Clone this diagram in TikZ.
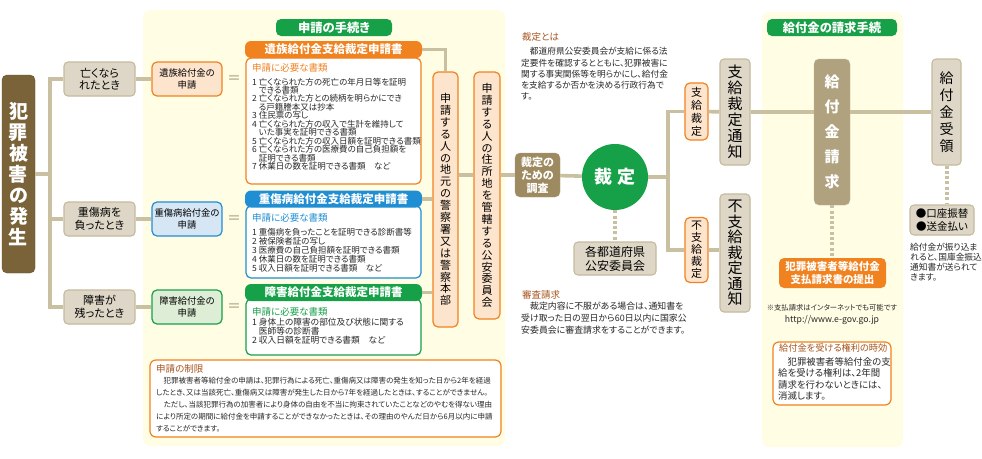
\documentclass[tikz,border=0pt]{standalone}
\usepackage{fontspec}
\setmainfont{Noto Sans CJK JP}[RawFeature=+palt]
\usetikzlibrary{positioning,calc}

\definecolor{linec}{RGB}{200,192,160}
\definecolor{tanfill}{RGB}{222,215,199}
\definecolor{tanedge}{RGB}{196,186,156}
\definecolor{brownc}{RGB}{122,99,56}
\definecolor{surveyc}{RGB}{158,138,96}
\definecolor{claimc}{RGB}{176,162,126}
\definecolor{orangec}{RGB}{240,130,32}
\definecolor{peach}{RGB}{253,228,205}
\definecolor{bluec}{RGB}{32,142,210}
\definecolor{bluefill}{RGB}{214,230,245}
\definecolor{greenc}{RGB}{22,160,72}
\definecolor{greenfill}{RGB}{222,238,214}
\definecolor{cream}{RGB}{255,253,228}
\definecolor{titlec}{RGB}{165,85,30}
\definecolor{textc}{RGB}{40,40,40}

\setlength{\lineskiplimit}{-5pt}

% vertical (tategaki) stack of characters
\makeatletter
\newcommand\tate[2]{\vbox{\baselineskip=#1\relax\@tfor\tch:=#2\do{\hbox to 1.1em{\hss\tch\hss}}}}
\makeatother

\begin{document}
\begin{tikzpicture}[x=1pt,y=-1pt,
  font=\fontsize{9}{11}\selectfont,
  conn/.style={draw=linec,line width=3.6pt},
  dots/.style={draw=linec,line width=4pt,dash pattern=on 3pt off 2.3pt},
  panel/.style={fill=cream,rounded corners=7pt},
  tan/.style={draw=tanedge,fill=tanfill,line width=1.1pt,rounded corners=4pt,inner sep=0pt,align=center},
  cause/.style={tan,minimum width=71pt,minimum height=34pt,font=\fontsize{11}{12.5}\selectfont},
  apply/.style={line width=1.2pt,rounded corners=5pt,inner sep=0pt,minimum width=70pt,minimum height=34pt,align=center,font=\fontsize{9.3}{12}\selectfont},
  eqsign/.style={text=linec,font=\fontsize{14}{14}\selectfont\bfseries,inner sep=0pt},
  head/.style={rounded corners=6pt,text=white,inner sep=0pt,minimum width=177pt,minimum height=17pt,font=\fontsize{11.5}{12}\selectfont\bfseries},
  body/.style={fill=white,line width=1.2pt,rounded corners=5pt,inner sep=0pt,minimum width=175pt},
  doctitle/.style={anchor=west,inner sep=0pt,font=\fontsize{9.5}{10}\selectfont},
  doclist/.style={anchor=north west,inner sep=0pt,align=left,text=textc},
  tatebox/.style={draw=orangec,fill=peach,line width=1.2pt,rounded corners=5pt,inner sep=0pt},
  greentitle/.style={fill=greenc,text=white,rounded corners=5pt,inner sep=0pt,minimum height=17pt,font=\fontsize{12.3}{13}\selectfont\bfseries},
  notebox/.style={draw=orangec,fill=white,line width=1.2pt,rounded corners=6pt,inner sep=0pt},
  subhead/.style={anchor=west,inner sep=0pt,text=titlec,font=\fontsize{9.5}{10}\selectfont},
  para/.style={anchor=north west,inner sep=0pt,align=left,text=textc},
]
\useasboundingbox (0,0) rectangle (982,458);
\fill[white] (0,0) rectangle (982,458);
\fill[panel] (143,10) rectangle (505,446);
\fill[panel] (762,12) rectangle (903,447);

% left: occurrence and its three cases
\node[fill=brownc,draw=brownc!80!black,rounded corners=5pt,inner sep=0pt,minimum width=33pt,minimum height=198pt,text=white,font=\fontsize{19}{21}\selectfont\bfseries] (victim) at (18.5,174) {\tate{21pt}{犯罪被害の発生}};
\node[cause] (dead) at (99.5,79) {亡くなら\\れたとき};
\node[cause] (injury) at (99.5,219) {重傷病を\\負ったとき};
\node[cause] (disab) at (99.5,307) {障害が\\残ったとき};

\node[apply,draw=orangec,fill=peach] (bereaved) at (187,79) {遺族給付金の\\申請};
\node[apply,draw=bluec,fill=bluefill] (seriousapp) at (187,219) {重傷病給付金の\\申請};
\node[apply,draw=greenc,fill=greenfill] (disabapp) at (187,307) {障害給付金の\\申請};
\node[eqsign] (eqa) at (234,79) {＝};
\node[eqsign] (eqb) at (234,219) {＝};
\node[eqsign] (eqc) at (234,307) {＝};

\coordinate (fork) at (50,174);
\draw[conn] (victim) -- (fork);
\draw[conn] (fork) |- (dead);
\draw[conn] (fork) |- (injury);
\draw[conn] (fork) |- (disab);
\draw[conn] (dead) -- (bereaved);
\draw[conn] (injury) -- (seriousapp);
\draw[conn] (disab) -- (disabapp);

% application forms
\node[greentitle,minimum width=116pt] (proc) at (334,27.5) {申請の手続き};
\node[body,draw=orangec,minimum height=126pt] (obody) at (333.5,121) {};
\node[head,fill=orangec] (ohead) at (333.5,49.5) {遺族給付金支給裁定申請書};
\node[doctitle,text=orangec] (otitle) at (252,68) {申請に必要な書類};
\node[doclist,font=\fontsize{8.5}{8.45}\selectfont] (olist) at (252,77.7) {1 亡くなられた方の死亡の年月日等を証明\\%
\hphantom{1 }できる書類\\%
2 亡くなられた方との続柄を明らかにでき\\%
\hphantom{1 }る戸籍謄本又は抄本\\%
3 住民票の写し\\%
4 亡くなられた方の収入で生計を維持して\\%
\hphantom{1 }いた事実を証明できる書類\\%
5 亡くなられた方の収入日額を証明できる書類\\%
6 亡くなられた方の医療費の自己負担額を\\%
\hphantom{1 }証明できる書類\\%
7 休業日の数を証明できる書類　など};

\node[body,draw=bluec,minimum height=72pt] (bbody) at (333.5,242) {};
\node[head,fill=bluec] (bhead) at (333.5,199) {重傷病給付金支給裁定申請書};
\node[doctitle,text=bluec] (btitle) at (252,218) {申請に必要な書類};
\node[doclist,font=\fontsize{8.5}{9}\selectfont] (blist) at (252,227.7) {1 重傷病を負ったことを証明できる診断書等\\%
2 被保険者証の写し\\%
3 医療費の自己負担額を証明できる書類\\%
4 休業日の数を証明できる書類\\%
5 収入日額を証明できる書類　など};

\node[body,draw=greenc,minimum height=56pt] (gbody) at (333.5,327) {};
\node[head,fill=greenc] (ghead) at (333.5,292.5) {障害給付金支給裁定申請書};
\node[doctitle,text=greenc] (gtitle) at (252,312) {申請に必要な書類};
\node[doclist,font=\fontsize{8.7}{9.3}\selectfont] (glist) at (252,317.7) {1 身体上の障害の部位及び状態に関する\\%
\hphantom{1 }医師等の診断書\\%
2 収入日額を証明できる書類　など};

% where to apply
\node[tatebox,minimum width=25pt,minimum height=255pt,font=\fontsize{11}{12}\selectfont] (police) at (445.5,199.5) {\tate{11.9pt}{申請する人の地元の警察署又は警察本部}};
\node[tatebox,minimum width=26pt,minimum height=247pt,font=\fontsize{11}{12}\selectfont] (koan) at (487,195.5) {\tate{11.9pt}{申請する人の住所地を管轄する公安委員会}};
\draw[conn] (ohead) -| (police);
\draw[conn] (bhead) -- (bhead -| police.west);
\draw[conn] (ghead) -- (ghead -| police.west);

% time limit of the application
\node[notebox,minimum width=351pt,minimum height=77pt] (restrict) at (325.5,398.5) {};
\node[subhead] (restrictt) at (156,369) {申請の制限};
\node[para,font=\fontsize{7.5}{11.8}\selectfont] (restrictb) at (156,377.3) {　犯罪被害者等給付金の申請は、犯罪行為による死亡、重傷病又は障害の発生を知った日から2年を経過\\%
したとき、又は当該死亡、重傷病又は障害が発生した日から7年を経過したときは、することができません。\\%
　ただし、当該犯罪行為の加害者により身体の自由を不当に拘束されていたことなどのやむを得ない理由\\%
により所定の期間に給付金を申請することができなかったときは、その理由のやんだ日から6月以内に申請\\%
することができます。};

% decision
\node[subhead] (deft) at (522,37) {裁定とは};
\node[para,font=\fontsize{8.7}{11.2}\selectfont] (defb) at (521,47.4) {　都道府県公安委員会が支給に係る法\\%
定要件を確認するとともに、犯罪被害に\\%
関する事実関係等を明らかにし、給付金\\%
を支給するか否かを決める行政行為で\\%
す。};
\node[fill=surveyc,draw=surveyc!85!white,rounded corners=5pt,inner sep=0pt,minimum width=45pt,minimum height=44pt,align=center,text=white,font=\fontsize{11}{13}\selectfont\bfseries] (survey) at (537.5,175) {裁定の\\ための\\調査};
\node[circle,fill=greenc,minimum size=66pt,inner sep=0pt,text=white,font=\fontsize{18}{18}\selectfont\bfseries] (judge) at (615,177) {裁\hspace{5pt}定};
\node[tan,minimum width=82pt,minimum height=33pt,font=\fontsize{12}{14}\selectfont] (prefbox) at (615,258.5) {各都道府県\\公安委員会};
\node[subhead] (reviewt) at (522,295) {審査請求};
\node[para,font=\fontsize{8.9}{12.3}\selectfont] (reviewb) at (521,301.5) {　裁定内容に不服がある場合は、通知書を\\%
受け取った日の翌日から60日以内に国家公\\%
安委員会に審査請求をすることができます。};

\draw[conn] (police.east |- survey) -- (koan.west |- survey);
\draw[conn] (koan.east |- survey) -- (survey);
\draw[conn] (survey) -- (judge);
\draw[dots] (judge) -- (prefbox);

% notices
\node[tatebox,minimum width=23pt,minimum height=57pt,font=\fontsize{11}{12}\selectfont] (payjudg) at (696.5,111.5) {\tate{13pt}{支給裁定}};
\node[tatebox,minimum width=23pt,minimum height=65pt,font=\fontsize{11}{12}\selectfont] (nopayjudg) at (696.5,250) {\tate{12pt}{不支給裁定}};
\node[tan,minimum width=30pt,minimum height=106pt,font=\fontsize{15}{16}\selectfont] (paynote) at (735,112) {\tate{16pt}{支給裁定通知}};
\node[tan,minimum width=30pt,minimum height=118pt,font=\fontsize{15}{16}\selectfont] (nopaynote) at (735,253) {\tate{15.5pt}{不支給裁定通知}};
\coordinate (jfork) at (668,177);
\draw[conn] (judge) -- (jfork);
\draw[conn] (jfork) |- (payjudg);
\draw[conn] (jfork) |- (nopayjudg);
\draw[conn] (payjudg) -- (paynote);
\draw[conn] (nopayjudg) -- (nopaynote.west |- nopayjudg);

% claiming the payment
\node[greentitle,minimum width=130pt] (claimt) at (832,27.5) {給付金の請求手続};
\node[fill=claimc,draw=claimc!80!white,rounded corners=5pt,inner sep=0pt,minimum width=36pt,minimum height=146pt,text=white,font=\fontsize{15}{16}\selectfont\bfseries] (claim) at (832,132) {\tate{25pt}{給付金請求}};
\node[fill=orangec,rounded corners=5pt,inner sep=0pt,minimum width=107pt,minimum height=30pt,align=center,text=white,font=\fontsize{10.5}{13}\selectfont\bfseries] (submit) at (832.5,273) {犯罪被害者等給付金\\支払請求書の提出};
\node[inner sep=0pt,text=textc,font=\fontsize{7.3}{8}\selectfont] (netnote) at (832,308) {※支払請求はインターネットでも可能です};
\node[inner sep=0pt,text=textc,font=\fontsize{8.7}{9}\selectfont] (url) at (832,320) {http://www.e-gov.go.jp};
\node[notebox,minimum width=118pt,minimum height=63pt] (limitbox) at (832,373.5) {};
\node[subhead,font=\fontsize{9.2}{10}\selectfont] (limitt) at (779,348) {給付金を受ける権利の時効};
\node[para,font=\fontsize{9.4}{11.4}\selectfont] (limitb) at (778,357.2) {　犯罪被害者等給付金の支\\%
給を受ける権利は、2年間\\%
請求を行わないときには、\\%
消滅します。};

\node[tan,minimum width=29pt,minimum height=106pt,font=\fontsize{14}{15}\selectfont] (receipt) at (946.5,112) {\tate{17pt}{給付金受領}};
\node[tan,minimum width=64pt,minimum height=30pt,font=\fontsize{10.5}{13}\selectfont] (method) at (942,220) {●口座振替\\●送金払い};
\node[para,font=\fontsize{8.7}{10.2}\selectfont] (methodb) at (910,242.8) {給付金が振り込ま\\%
れると、国庫金振込\\%
通知書が送られて\\%
きます。};

\draw[conn] (paynote) -- (claim.west |- paynote);
\draw[conn] (claim.east |- receipt) -- (receipt);
\draw[dots] (claim) -- (claim |- submit.north);
\draw[dots] (receipt) -- (receipt |- method.north);
\end{tikzpicture}
\end{document}
